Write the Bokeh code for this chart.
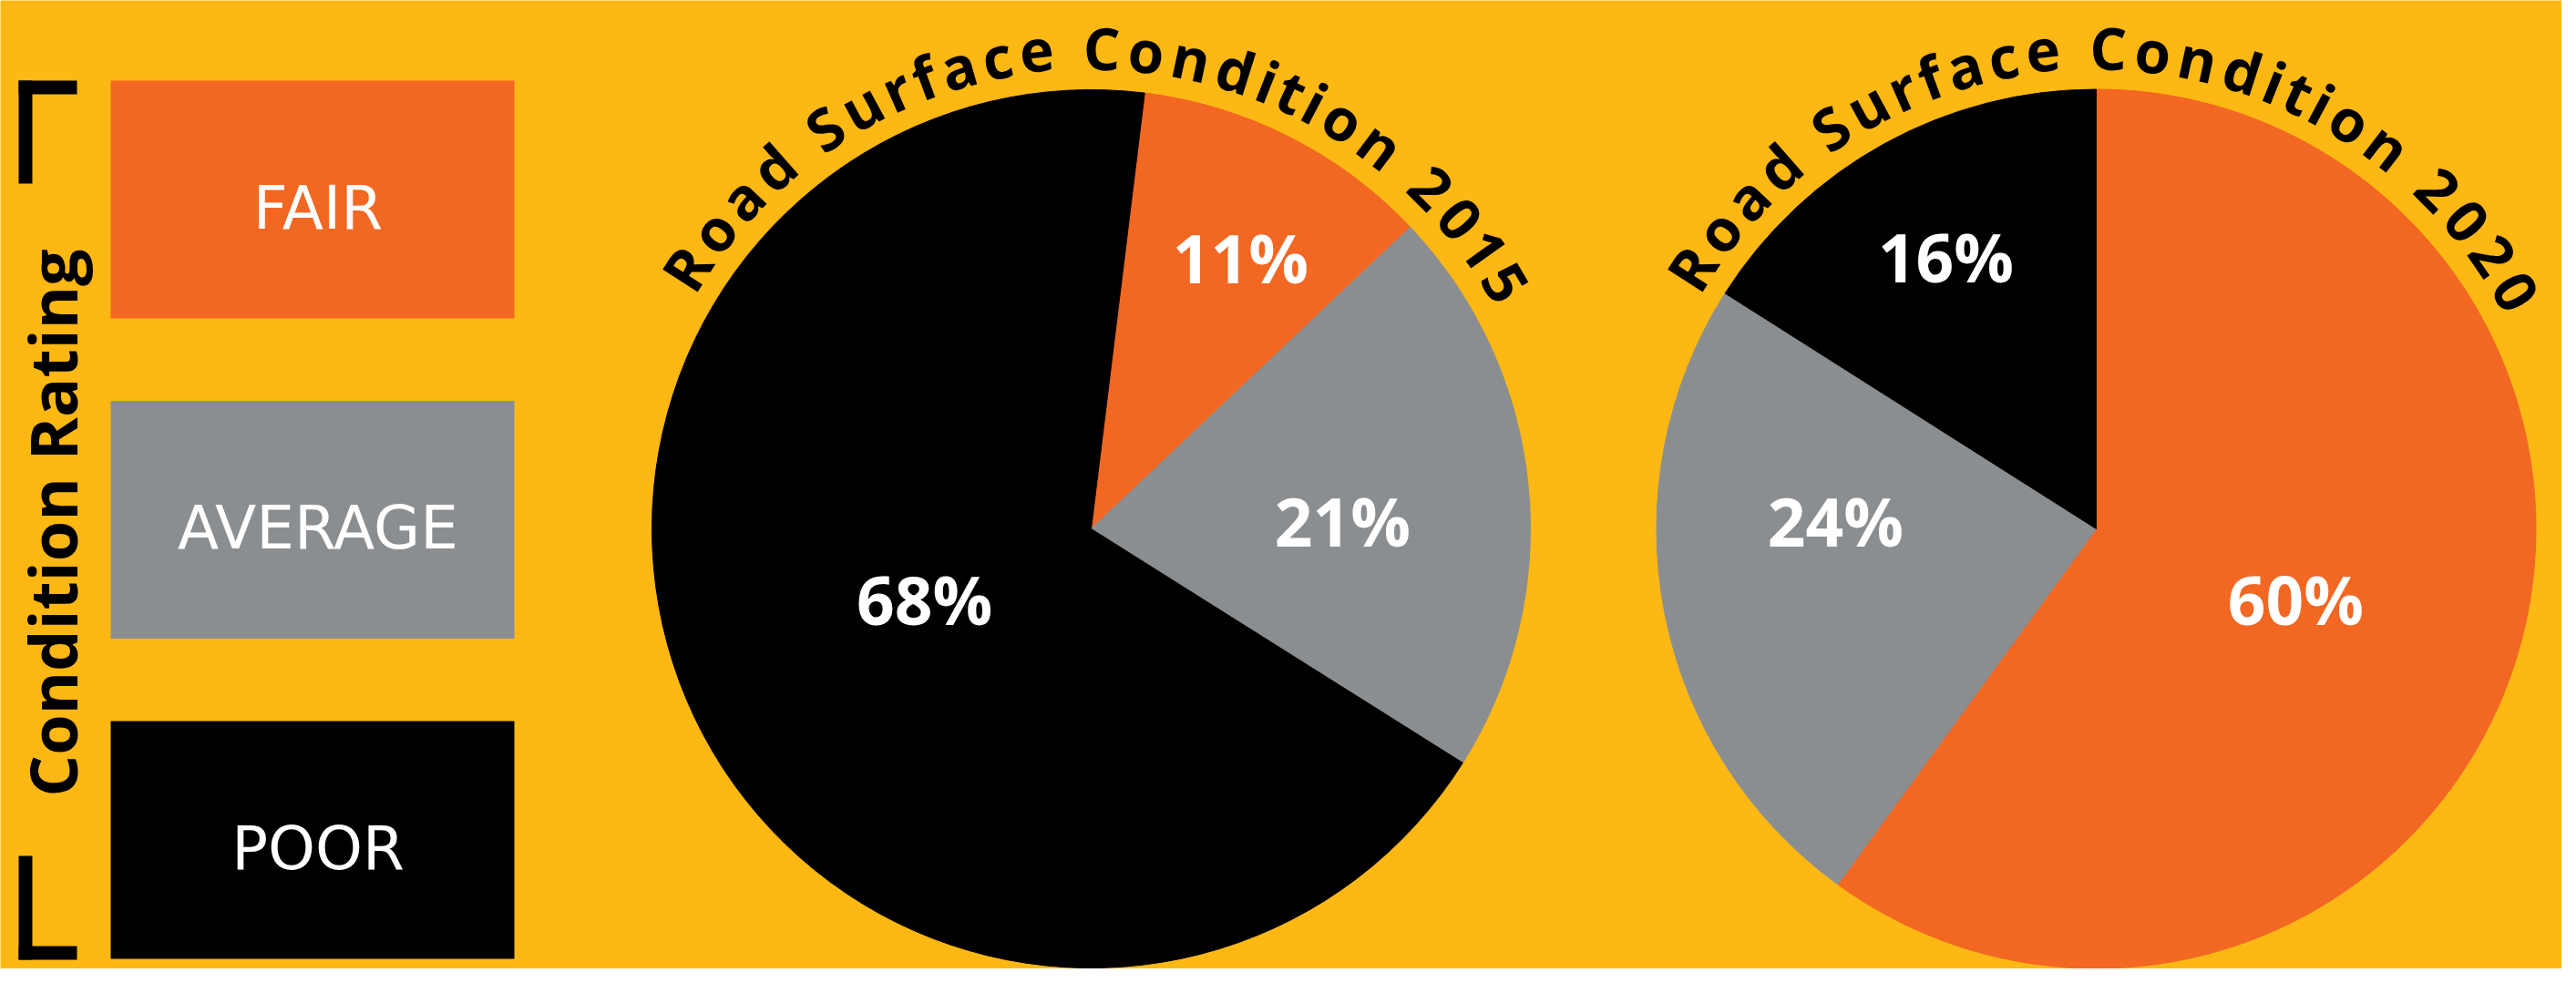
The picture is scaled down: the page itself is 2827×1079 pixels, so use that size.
import math
from bokeh.plotting import figure
from bokeh.models import Range1d
from bokeh.core.properties import value
from bokeh.embed import file_html
from bokeh.resources import INLINE

# ---------------- data ----------------
categories = ["FAIR", "AVERAGE", "POOR"]
share_2015 = [11, 21, 68]
share_2020 = [60, 24, 16]
pie_titles = ["Road Surface Condition 2015", "Road Surface Condition 2020"]
axis_title = "Condition Rating"

# ---------------- style ----------------
W, H = 2827, 1079
BG = "#FDB813"
cat_colors = ["#F26722", "#8B8E91", "#000000"]
FONT_B = "Open Sans"
FONT_L = "DejaVu Sans"
BASE_FIX = 0.27  # empirical baseline correction (em)

def Y(img_y):
    return H - img_y

p = figure(width=W - 16, height=H - 16, output_backend="svg", toolbar_location=None,
           x_range=Range1d(8, W - 8), y_range=Range1d(8, H - 8),
           x_axis_type=None, y_axis_type=None, min_border=0)
p.background_fill_color = BG
p.border_fill_color = BG
p.outline_line_color = None
p.xgrid.visible = False
p.ygrid.visible = False

# ---------------- legend column ----------------
box_left, box_right = 129, 572
box_top0, box_h, box_step = 96, 261, 351.5
leg_fs = 66
for i, (cat, col) in enumerate(zip(categories, cat_colors)):
    top = box_top0 + i * box_step
    bot = top + box_h
    p.quad(left=[box_left], right=[box_right], top=[Y(top)], bottom=[Y(bot)],
           fill_color=col, line_color=None)
    cy_img = (top + bot) / 2 + 3
    p.text(x=[(box_left + box_right) / 2 + 6],
           y=[Y(cy_img + 0.365 * leg_fs) + BASE_FIX * leg_fs], text=[cat],
           text_font=value(FONT_L), text_font_size=f"{leg_fs}px", text_color="white",
           text_align="center", text_baseline="alphabetic")

# brackets
bw = 15
p.quad(left=[28, 28], right=[28 + bw, 92], top=[Y(96), Y(96)], bottom=[Y(209), Y(96 + bw)],
       fill_color="black", line_color=None)
p.quad(left=[28, 28], right=[28 + bw, 92], top=[Y(947), Y(1061 - bw)], bottom=[Y(1061), Y(1061)],
       fill_color="black", line_color=None)

# vertical axis title
ax_fs = 72
ax_base = 84
p.text(x=[ax_base - BASE_FIX * ax_fs], y=[Y(581.5)], text=[axis_title], angle=math.pi / 2,
       text_font=value(FONT_B), text_font_style="bold", text_font_size=f"{ax_fs}px",
       text_color="black", text_align="center", text_baseline="alphabetic")

# ---------------- pies ----------------
pies = [
    dict(values=share_2015, cx=1205, cy=588, r=482, start=7.0,
         lab_r=[0.717, 0.573, 0.407], lab_off=[1.5, 2.5, 4.2], arc=(-57.2, 59.3)),
    dict(values=share_2020, cx=2308, cy=588, r=482.5, start=0.0,
         lab_r=[0.477, 0.594, 0.719], lab_off=[0.0, 13.8, 0.4], arc=(-57.2, 60.5)),
]

char_w = {'R': 0.66, 'o': 0.62, 'a': 0.6, 'd': 0.65, ' ': 0.3, 'S': 0.56, 'u': 0.65,
          'r': 0.44, 'f': 0.4, 'c': 0.52, 'e': 0.6, 'C': 0.64, 'n': 0.65, 'i': 0.3,
          't': 0.43, '2': 0.6, '0': 0.6, '1': 0.5, '5': 0.6}

lab_fs = 73
title_fs = 64
title_r = 511
for pie, title in zip(pies, pie_titles):
    cx, cyi, R = pie["cx"], pie["cy"], pie["r"]
    cy = Y(cyi)
    total = sum(pie["values"])
    theta = pie["start"]
    for v, col, lr, lo in zip(pie["values"], cat_colors, pie["lab_r"], pie["lab_off"]):
        span = 360.0 * v / total
        t0, t1 = theta, theta + span
        p.wedge(x=[cx], y=[cy], radius=R,
                start_angle=math.radians(90 - t0), end_angle=math.radians(90 - t1),
                direction="clock", fill_color=col, line_color=col, line_width=1)
        mid = math.radians((t0 + t1) / 2 + lo)
        lx = cx + lr * R * math.sin(mid)
        ly = cy + lr * R * math.cos(mid)
        p.text(x=[lx], y=[ly - 0.357 * lab_fs + BASE_FIX * lab_fs], text=[f"{v}%"],
               text_font=value(FONT_B), text_font_style="bold", text_font_size=f"{lab_fs}px",
               text_color="white", text_align="center", text_baseline="alphabetic")
        theta = t1

    # curved title
    widths = [char_w.get(ch, 0.6) for ch in title]
    centers = []
    acc = 0.0
    for w in widths:
        centers.append(acc + w / 2)
        acc += w
    a0, a1 = pie["arc"]
    c0, c1 = centers[0], centers[-1]
    xs, ys, angs, chars = [], [], [], []
    r_base = title_r + BASE_FIX * title_fs
    for ch, c in zip(title, centers):
        if ch == " ":
            continue
        th = math.radians(a0 + (c - c0) / (c1 - c0) * (a1 - a0))
        xs.append(cx + r_base * math.sin(th))
        ys.append(cy + r_base * math.cos(th))
        angs.append(-th)
        chars.append(ch)
    p.text(x=xs, y=ys, text=chars, angle=angs,
           text_font=value(FONT_B), text_font_style="bold", text_font_size=f"{title_fs}px",
           text_color="black", text_align="center", text_baseline="alphabetic")

open("out.html", "w").write(file_html(p, INLINE))
